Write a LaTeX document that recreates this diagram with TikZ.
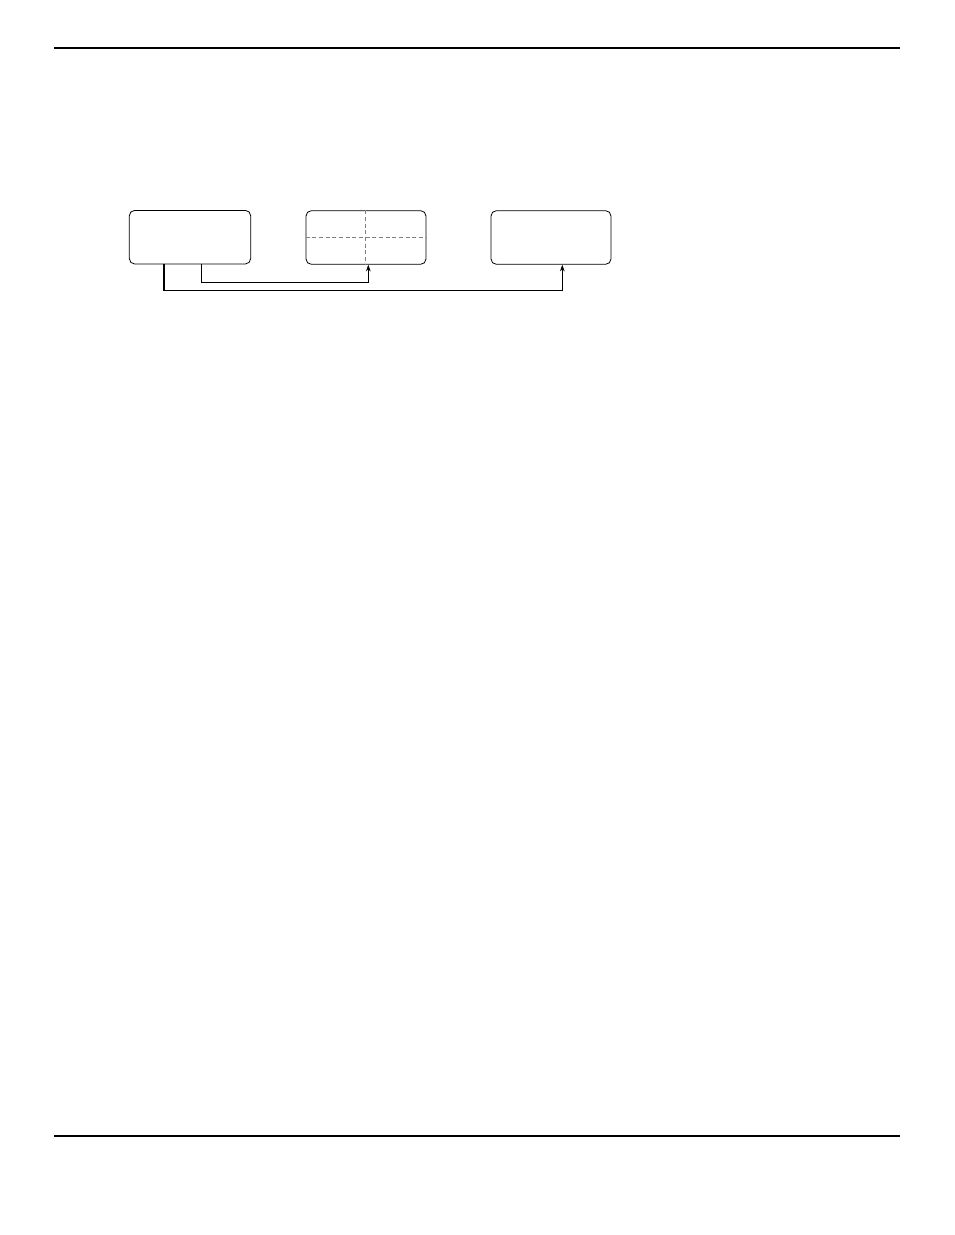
\documentclass[tikz,border=0pt]{standalone}
\usetikzlibrary{arrows.meta}
\begin{document}
\begin{tikzpicture}[x=0.75pt,y=-0.75pt]
		\tikzstyle{every node}+=[inner sep=0pt]
		\tikzstyle{unitbox}=[draw=black, line width=0.6pt, rounded corners=4pt, minimum width=90pt, minimum height=40.2pt]
		\tikzstyle{link}=[black, line width=0.6pt]
		\tikzstyle{grid}=[gray, line width=0.5pt, dash pattern=on 3pt off 2pt]
		\useasboundingbox (0,0) rectangle (954,1235);
		% page rules
		\draw [black, line width=0.9pt] (54,48) -- (900,48);
		\draw [black, line width=0.9pt] (54,1136) -- (900,1136);
		% boxes
		\node [unitbox, minimum width=91pt] (src) at (190,237.2) {};
		\node [unitbox] (mid) at (366,237.5) {};
		\node [unitbox] (dst) at (551,237.5) {};
		\draw [grid] (mid.north -| 365,0) -- (mid.south -| 365,0);
		\draw [grid] (mid.west) -- (mid.east);
		% connectors
		\coordinate (c1) at (164,290.7);
		\coordinate (c2) at (201,282.3);
		\draw [black, line width=1.5pt] (src.south -| c1) -- (c1);
		\draw [link, -{Stealth[length=5pt,width=3.5pt]}] (c1) -| (dst.south -| 562.3,0);
		\draw [link, -{Stealth[length=5pt,width=3.5pt]}] (src.south -| c2) -- (c2) -| (mid.south -| 368.3,0);
	\end{tikzpicture}
\end{document}
